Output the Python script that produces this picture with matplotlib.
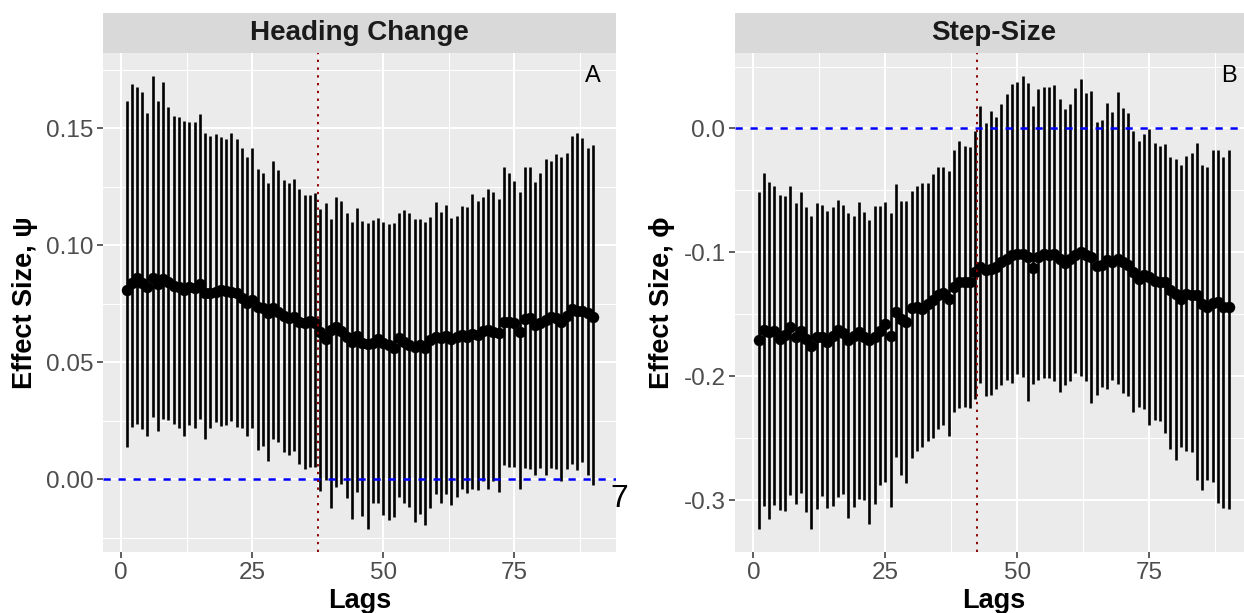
import matplotlib
matplotlib.use("Agg")
import matplotlib.pyplot as plt
from matplotlib.ticker import FixedLocator, FixedFormatter
import numpy as np

plt.rcParams['font.family'] = ['Liberation Sans', 'DejaVu Sans']

lags = list(range(1, 91))

hc_est = [0.0808, 0.0839, 0.0858, 0.0836, 0.0822, 0.0858, 0.0833, 0.0853, 0.0843, 0.0825,
          0.0822, 0.0808, 0.0822, 0.0815, 0.0833, 0.0794, 0.0794, 0.0800, 0.0808, 0.0805,
          0.0800, 0.0794, 0.0772, 0.0753, 0.0765, 0.0736, 0.0729, 0.0708, 0.0729, 0.0715,
          0.0697, 0.0687, 0.0694, 0.0672, 0.0665, 0.0675, 0.0667, 0.0628, 0.0600, 0.0637,
          0.0648, 0.0632, 0.0606, 0.0585, 0.0610, 0.0580, 0.0575, 0.0583, 0.0599, 0.0582,
          0.0573, 0.0558, 0.0601, 0.0587, 0.0573, 0.0566, 0.0573, 0.0558, 0.0594, 0.0608,
          0.0601, 0.0611, 0.0597, 0.0608, 0.0615, 0.0608, 0.0620, 0.0615, 0.0634, 0.0637,
          0.0630, 0.0623, 0.0672, 0.0672, 0.0665, 0.0630, 0.0682, 0.0687, 0.0658, 0.0665,
          0.0680, 0.0694, 0.0687, 0.0672, 0.0697, 0.0725, 0.0719, 0.0719, 0.0708, 0.0691]

hc_upper = [0.1617, 0.1688, 0.1677, 0.1654, 0.1563, 0.1724, 0.1614, 0.1695, 0.1588, 0.1553,
            0.1547, 0.1531, 0.1527, 0.1527, 0.1560, 0.1481, 0.1466, 0.1476, 0.1462, 0.1454,
            0.1480, 0.1453, 0.1417, 0.1375, 0.1417, 0.1325, 0.1306, 0.1264, 0.1359, 0.1319,
            0.1276, 0.1266, 0.1281, 0.1238, 0.1215, 0.1215, 0.1224, 0.1154, 0.1178, 0.1110,
            0.1205, 0.1190, 0.1138, 0.1097, 0.1158, 0.1101, 0.1093, 0.1106, 0.1117, 0.1097,
            0.1090, 0.1093, 0.1138, 0.1152, 0.1135, 0.1110, 0.1110, 0.1098, 0.1121, 0.1182,
            0.1142, 0.1171, 0.1116, 0.1125, 0.1168, 0.1162, 0.1217, 0.1189, 0.1204, 0.1239,
            0.1226, 0.1197, 0.1332, 0.1309, 0.1272, 0.1228, 0.1332, 0.1332, 0.1268, 0.1308,
            0.1369, 0.1359, 0.1389, 0.1376, 0.1395, 0.1467, 0.1477, 0.1457, 0.1417, 0.1426]

hc_lower = [0.0138, 0.0224, 0.0234, 0.0212, 0.0185, 0.0266, 0.0205, 0.0256, 0.0252, 0.0235,
            0.0217, 0.0185, 0.0231, 0.0219, 0.0256, 0.0172, 0.0219, 0.0245, 0.0228, 0.0231,
            0.0248, 0.0224, 0.0220, 0.0185, 0.0217, 0.0124, 0.0142, 0.0077, 0.0170, 0.0160,
            0.0117, 0.0103, 0.0120, 0.0064, 0.0041, 0.0050, 0.0050, -0.0050, -0.0005, -0.0125,
            -0.0033, -0.0021, -0.0083, -0.0171, -0.0054, -0.0157, -0.0215, -0.0104, -0.0101, -0.0152,
            -0.0175, -0.0161, -0.0078, -0.0101, -0.0121, -0.0184, -0.0148, -0.0195, -0.0123, -0.0063,
            -0.0101, -0.0066, -0.0109, -0.0075, -0.0041, -0.0058, -0.0044, -0.0047, -0.0007, -0.0041,
            -0.0007, -0.0054, 0.0060, 0.0050, 0.0053, -0.0041, 0.0048, 0.0041, 0.0017, 0.0046,
            0.0017, 0.0048, 0.0043, -0.0007, 0.0043, 0.0064, 0.0037, 0.0074, 0.0019, -0.0027]

ss_est = [-0.1706, -0.1625, -0.1644, -0.1636, -0.1698, -0.1663, -0.1604, -0.1679, -0.1631, -0.1698,
          -0.1752, -0.1679, -0.1679, -0.1725, -0.1671, -0.1625, -0.1652, -0.1706, -0.1671, -0.1644,
          -0.1679, -0.1706, -0.1685, -0.1631, -0.1577, -0.1671, -0.1482, -0.1536, -0.1563, -0.1447,
          -0.1442, -0.1456, -0.1415, -0.1388, -0.1348, -0.1329, -0.1375, -0.1280, -0.1240, -0.1240,
          -0.1240, -0.1160, -0.1120, -0.1146, -0.1132, -0.1119, -0.1078, -0.1051, -0.1024, -0.1011,
          -0.1016, -0.1038, -0.1124, -0.1038, -0.1016, -0.1024, -0.1011, -0.1051, -0.1086, -0.1051,
          -0.1024, -0.0997, -0.1024, -0.1038, -0.1113, -0.1105, -0.1065, -0.1078, -0.1051, -0.1078,
          -0.1105, -0.1159, -0.1213, -0.1186, -0.1199, -0.1232, -0.1240, -0.1240, -0.1307, -0.1334,
          -0.1375, -0.1334, -0.1348, -0.1348, -0.1420, -0.1442, -0.1410, -0.1402, -0.1437, -0.1437]

ss_upper = [-0.0512, -0.0356, -0.0431, -0.0461, -0.0536, -0.0547, -0.0466, -0.0598, -0.0515, -0.0633,
            -0.0709, -0.0601, -0.0620, -0.0668, -0.0633, -0.0574, -0.0617, -0.0682, -0.0709, -0.0596,
            -0.0674, -0.0736, -0.0625, -0.0625, -0.0593, -0.0682, -0.0450, -0.0585, -0.0585, -0.0507,
            -0.0464, -0.0439, -0.0439, -0.0369, -0.0310, -0.0315, -0.0342, -0.0170, -0.0102, -0.0143,
            -0.0148, -0.0019, 0.0182, 0.0046, 0.0140, 0.0094, 0.0194, 0.0275, 0.0358, 0.0372,
            0.0426, 0.0364, 0.0178, 0.0318, 0.0332, 0.0332, 0.0350, 0.0240, 0.0154, 0.0194,
            0.0323, 0.0402, 0.0288, 0.0305, 0.0054, 0.0067, 0.0202, 0.0135, 0.0296, 0.0162,
            0.0127, -0.0022, -0.0100, -0.0046, -0.0008, -0.0116, -0.0143, -0.0129, -0.0229, -0.0243,
            -0.0291, -0.0224, -0.0202, -0.0121, -0.0291, -0.0310, -0.0175, -0.0175, -0.0229, -0.0170]

ss_lower = [-0.3235, -0.3046, -0.3148, -0.3038, -0.3078, -0.3086, -0.2960, -0.3027, -0.2943, -0.3092,
            -0.3235, -0.3073, -0.2965, -0.3065, -0.3046, -0.2973, -0.2946, -0.3140, -0.3051, -0.2992,
            -0.3000, -0.3189, -0.3032, -0.2876, -0.2857, -0.3051, -0.2650, -0.2798, -0.2865, -0.2663,
            -0.2601, -0.2569, -0.2520, -0.2499, -0.2426, -0.2394, -0.2480, -0.2291, -0.2259, -0.2251,
            -0.2259, -0.2183, -0.2057, -0.2156, -0.2151, -0.2102, -0.2070, -0.2030, -0.2057, -0.1981,
            -0.2003, -0.2202, -0.2062, -0.2030, -0.2016, -0.2016, -0.2040, -0.2129, -0.2070, -0.2040,
            -0.1976, -0.1995, -0.2040, -0.2216, -0.2148, -0.2089, -0.2102, -0.2030, -0.2062, -0.2135,
            -0.2156, -0.2291, -0.2251, -0.2264, -0.2391, -0.2350, -0.2358, -0.2458, -0.2588, -0.2677,
            -0.2574, -0.2606, -0.2615, -0.2838, -0.2919, -0.2838, -0.2857, -0.3019, -0.3059, -0.3067]

panel_titles = ["Heading Change", "Step-Size"]
panel_tags = ["A", "B"]
y_titles = ["Effect Size, \u03c8", "Effect Size, \u03d5"]
x_title = "Lags"
cutoffs = [37.5, 42.4]
x_ticks = [0, 25, 50, 75]
x_minor = [12.5, 37.5, 62.5, 87.5]
hc_yticks = [0.00, 0.05, 0.10, 0.15]
hc_ylabels = ["0.00", "0.05", "0.10", "0.15"]
hc_yminor = [-0.025, 0.025, 0.075, 0.125, 0.175]
ss_yticks = [-0.3, -0.2, -0.1, 0.0]
ss_ylabels = ["-0.3", "-0.2", "-0.1", "0.0"]
ss_yminor = [-0.25, -0.15, -0.05, 0.05]

W, H = 1244, 613
fig = plt.figure(figsize=(W / 100, H / 100), dpi=100)

def fx(px):
    return px / W

def fy(py):
    return 1 - py / H

panel_top, panel_bot = 53, 552
strip_top = 13
panels = [
    dict(left=103.2, width=513.0, est=hc_est, up=hc_upper, lo=hc_lower,
         yt=hc_yticks, yl=hc_ylabels, ym=hc_yminor, ylab_x=25),
    dict(left=735.1, width=516.9, est=ss_est, up=ss_upper, lo=ss_lower,
         yt=ss_yticks, yl=ss_ylabels, ym=ss_yminor, ylab_x=662),
]

for i, p in enumerate(panels):
    ax = fig.add_axes([fx(p['left']), fy(panel_bot), fx(p['width']),
                       (panel_bot - panel_top) / H])
    ax.set_facecolor('#EBEBEB')
    for s in ax.spines.values():
        s.set_visible(False)
    lo = np.array(p['lo'])
    up = np.array(p['up'])
    est = np.array(p['est'])
    ax.vlines(lags, lo, up, color='black', lw=1.9, zorder=3)
    ax.scatter(lags, est, s=68, color='black', zorder=4, linewidths=0)
    ax.axhline(0, color='blue', lw=1.8, ls=(0, (2.9, 3.1)), zorder=5)
    ax.axvline(cutoffs[i], color='#8B0000', lw=1.4, ls=(0, (1.2, 2.8)), zorder=5)

    xr = max(lags) - min(lags)
    ax.set_xlim(min(lags) - 0.05 * xr, max(lags) + 0.05 * xr)
    ymin, ymax = lo.min(), up.max()
    yr = ymax - ymin
    ax.set_ylim(ymin - 0.05 * yr, ymax + 0.05 * yr)

    ax.xaxis.set_major_locator(FixedLocator(x_ticks))
    ax.xaxis.set_minor_locator(FixedLocator(x_minor))
    ax.yaxis.set_major_locator(FixedLocator(p['yt']))
    ax.yaxis.set_major_formatter(FixedFormatter(p['yl']))
    ax.yaxis.set_minor_locator(FixedLocator(p['ym']))
    ax.grid(which='major', color='white', lw=1.5, zorder=0)
    ax.grid(which='minor', color='white', lw=0.75, zorder=0)
    ax.set_axisbelow(True)
    ax.tick_params(which='major', length=4, width=1.1, color='#333333',
                   labelsize=17.5, labelcolor='#4D4D4D', pad=3)
    ax.tick_params(which='minor', length=0)

    ax.text(max(lags), ymax, panel_tags[i], ha='center', va='center',
            fontsize=17, color='black', zorder=6)

    # strip
    sax = fig.add_axes([fx(p['left']), fy(panel_top), fx(p['width']),
                        (panel_top - strip_top) / H])
    sax.set_facecolor('#D9D9D9')
    sax.set_xticks([])
    sax.set_yticks([])
    for s in sax.spines.values():
        s.set_visible(False)
    fig.text(fx(p['left'] + p['width'] / 2), fy(33), panel_titles[i], ha='center', va='center',
             fontsize=20, fontweight='bold', color='#1A1A1A')

    fig.text(fx(p['ylab_x']), fy((panel_top + panel_bot) / 2), y_titles[i], rotation=90,
             ha='center', va='center', fontsize=19.5, fontweight='bold', color='black')
    fig.text(fx(p['left'] + p['width'] / 2), fy(601), x_title,
             ha='center', va='center', fontsize=19.5, fontweight='bold', color='black')

fig.text(fx(619), fy(499), "7", ha='center', va='center', fontsize=23, color='black')

fig.savefig("out.png", dpi=100)
